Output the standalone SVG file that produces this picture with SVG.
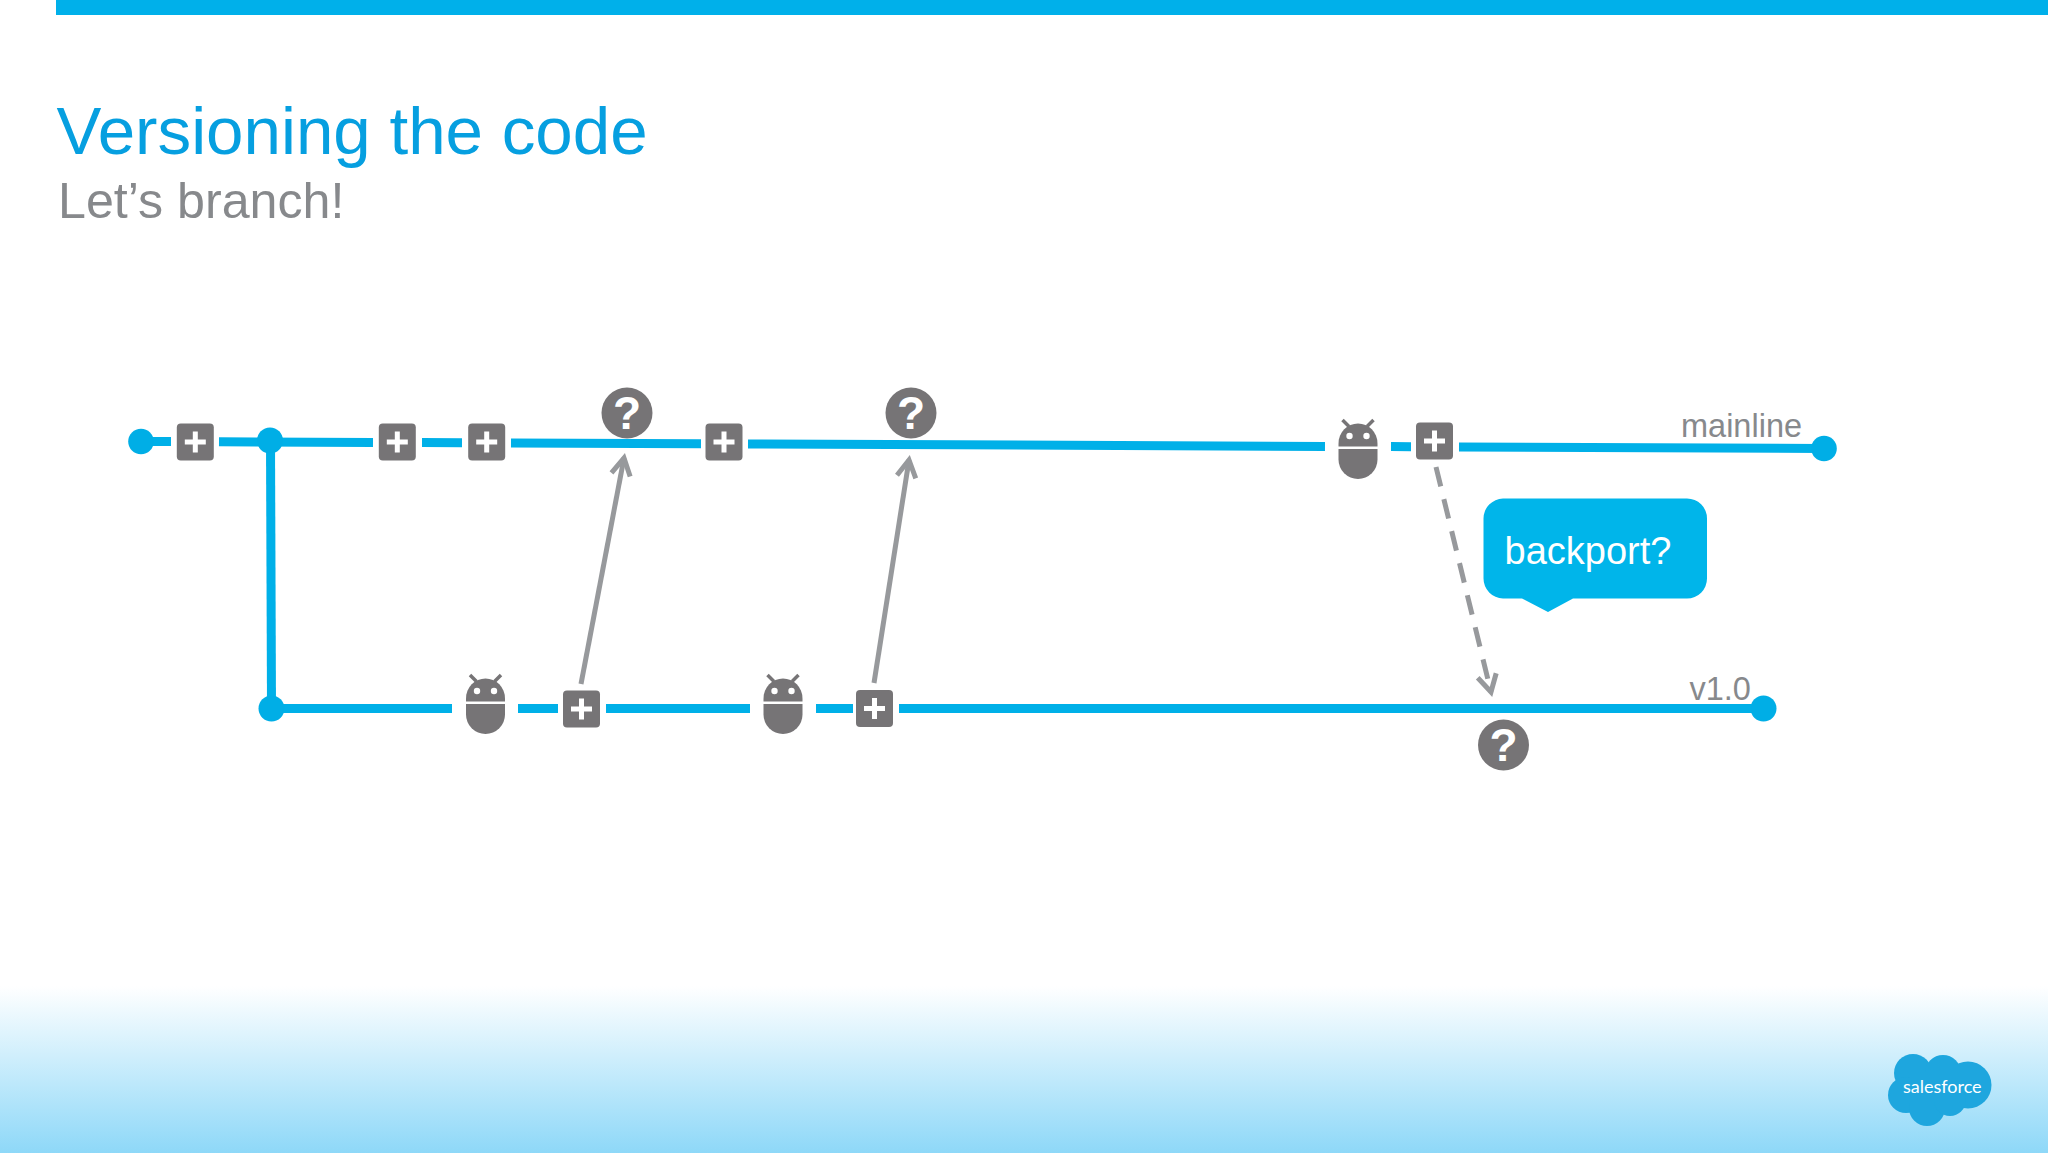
<svg xmlns="http://www.w3.org/2000/svg" width="2048" height="1153" viewBox="0 0 2048 1153">
<style>
text{font-family:"Liberation Sans",Arial,sans-serif}
.branch{stroke:#00b0e8;stroke-width:9;fill:none}
.arrow{stroke:#97999c;stroke-width:5;fill:none;marker-end:url(#open)}
.dash{stroke-dasharray:20 13}
.dot{fill:#00aee6}
.icon{fill:#767476}
.q{fill:#fff;font-size:46px;font-weight:700;text-anchor:middle}
.lbl{fill:#87898c;font-size:32.500px}
</style>
<defs>
<linearGradient id="fade" x1="0" y1="0" x2="0" y2="1"><stop offset="0" stop-color="#fff"/><stop offset="1" stop-color="#8ed8f8"/></linearGradient>
<marker id="open" markerUnits="userSpaceOnUse" markerWidth="30" markerHeight="30" viewBox="-24 -15 30 30" refX="0" refY="0" orient="auto"><path d="M-17 -9.500L0 0L-17 9.500" fill="none" stroke="#97999c" stroke-width="5"/></marker>
<g id="plus"><rect x="-18.500" y="-18.500" width="37" height="37" rx="4" class="icon"/><rect x="-10.500" y="-2.500" width="21" height="5" fill="#fff"/><rect x="-2.500" y="-10.500" width="5" height="21" fill="#fff"/></g>
<g id="droid"><path d="M-19.500 -3V-6A19.500 20 0 0 1 19.500 -6V-3Z" class="icon"/><path d="M-19.500 -0.500H19.500V10A19.500 19.500 0 0 1 -19.500 10Z" class="icon"/><path d="M-15.500 -29.500L-9 -23M15.500 -29.500L9 -23" stroke="#767476" stroke-width="3.500" fill="none"/><circle cx="-8.500" cy="-13.500" r="3.200" fill="#fff"/><circle cx="8.500" cy="-13.500" r="3.200" fill="#fff"/></g>
<circle id="qc" r="25.500" class="icon"/>
</defs>
<rect width="2048" height="1153" fill="#fff"/>
<rect x="0" y="986" width="2048" height="167" fill="url(#fade)"/>
<rect x="56" y="0" width="1992" height="15" fill="#00b0ea"/>
<text x="56.500" y="154" font-size="67.300" fill="#069fe0">Versioning the code</text>
<text x="58" y="218" font-size="50.200" fill="#87898c">Let’s branch!</text>
<g id="connectors">
<path class="branch" d="M141 441.500H171M219 441.800L373 442.400M422 442.600L462 442.800M511 443L701 443.800M748 444L1325 446.400M1391 446.600L1411 446.700M1459 446.900L1823 448.500"/>
<path class="branch" d="M270.500 441L271.500 708"/>
<path class="branch" d="M271 708.500H452M518 708.500H558M606 708.500H750M816 708.500H853M899 708.500H1763"/>
<path class="arrow" d="M581 684L624 458"/>
<path class="arrow" d="M874 683L909 460"/>
<path class="arrow dash" d="M1436 467L1491 692"/>
</g>
<g id="start"><circle cx="141" cy="441.500" r="12.800" class="dot"/></g>
<g id="branch-point"><circle cx="270" cy="440.500" r="13" class="dot"/></g>
<g id="v1-start"><circle cx="271.500" cy="708.500" r="13" class="dot"/></g>
<g id="mainline-end"><circle cx="1824" cy="448.500" r="12.800" class="dot"/></g>
<g id="v1-end"><circle cx="1763.500" cy="708.500" r="13" class="dot"/></g>
<g id="p1"><use href="#plus" x="195.300" y="442"/></g>
<g id="p2"><use href="#plus" x="397.300" y="442"/></g>
<g id="p3"><use href="#plus" x="486.700" y="442"/></g>
<g id="p4"><use href="#plus" x="724" y="442"/></g>
<g id="p5"><use href="#plus" x="1434.500" y="441"/></g>
<g id="p6"><use href="#plus" x="581.500" y="709"/></g>
<g id="p7"><use href="#plus" x="874.500" y="708.500"/></g>
<g id="d1"><use href="#droid" x="1358" y="449.500"/></g>
<g id="d2"><use href="#droid" x="485.500" y="704.500"/></g>
<g id="d3"><use href="#droid" x="783" y="704.500"/></g>
<g id="q1"><use href="#qc" x="627" y="413"/><text class="q" x="627" y="429">?</text></g>
<g id="q2"><use href="#qc" x="911" y="413"/><text class="q" x="911" y="429">?</text></g>
<g id="q3"><use href="#qc" x="1503.500" y="745"/><text class="q" x="1503.500" y="761">?</text></g>
<g id="callout"><path d="M1503 498.500H1687A20 20 0 0 1 1707 518.500V578.500A20 20 0 0 1 1687 598.500H1573L1548 612L1522 598.500H1503A20 20 0 0 1 1483.500 578.500V518.500A20 20 0 0 1 1503 498.500Z" fill="#00b5ea"/><text x="1504.500" y="564" font-size="38" fill="#fff">backport?</text></g>
<text class="lbl" x="1681" y="437">mainline</text>
<text class="lbl" x="1689.500" y="699.500">v1.0</text>
<g id="logo" fill="#1ea6de"><circle cx="1913" cy="1073" r="19"/><circle cx="1943" cy="1073" r="18"/><circle cx="1968" cy="1085" r="23.500"/><circle cx="1906" cy="1095" r="18"/><circle cx="1927" cy="1108" r="18"/><circle cx="1950" cy="1100" r="16"/><rect x="1910" y="1072" width="50" height="30"/><text x="1903" y="1093" font-size="18" fill="#fff" style="font-family:Lato,sans-serif">salesforce</text></g>
</svg>
